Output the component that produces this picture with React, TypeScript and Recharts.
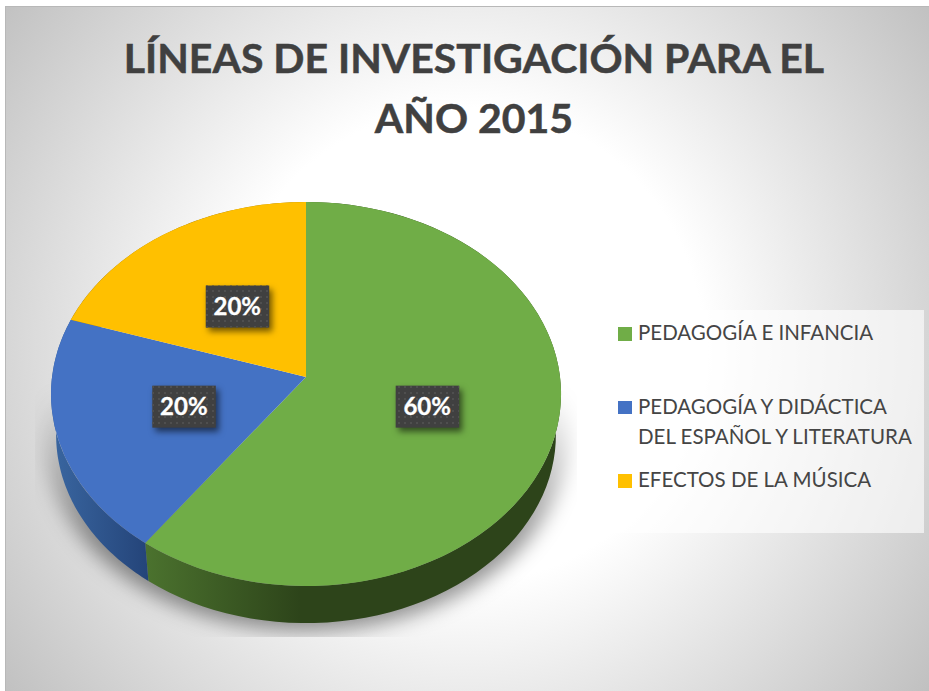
import { Legend, Pie, PieChart } from "recharts";

const categories = [
  "PEDAGOGÍA E INFANCIA",
  "PEDAGOGÍA Y DIDÁCTICA DEL ESPAÑOL Y LITERATURA",
  "EFECTOS DE LA MÚSICA",
];
const shares = [60, 20, 20];
const faceColors = ["#70AD47", "#4472C4", "#FFC000"];
const wallColors = ["url(#wallGreen)", "url(#wallBlue)", "#a67c00"];
const titleLines = ["LÍNEAS DE INVESTIGACIÓN PARA EL", "AÑO 2015"];

const faceRows = categories.map((name, i) => ({ name, value: shares[i], fill: faceColors[i] }));
const wallRows = categories.map((name, i) => ({ name, value: shares[i], fill: wallColors[i] }));

const FONT = "Lato, 'Open Sans', sans-serif";
const DEPTH_Y = 41;
const WALL_SCALE = 0.98;

// the disc is seen in perspective: the apex sits above the middle of the ellipse
function project(cx: number, cy: number, r: number, deg: number) {
  const rad = (deg * Math.PI) / 180;
  const u = Math.cos(rad);
  const v = -Math.sin(rad);
  const w = 1 - 0.0885 * v;
  return {
    x: cx + (u * r * 0.996) / w,
    y: cy - r * 0.0667 + (v * r * 0.747) / w,
  };
}

function FaceSector(props: any) {
  const { cx, cy, outerRadius: r, startAngle, endAngle, fill } = props;
  const a = project(cx, cy, r, startAngle);
  const b = project(cx, cy, r, endAngle);
  const apexY = cy - r * 0.0667;
  const large = Math.abs(endAngle - startAngle) > 180 ? 1 : 0;
  const d = `M${cx},${apexY}L${a.x},${a.y}A${r},${r * 0.753} 0 ${large} 1 ${b.x},${b.y}Z`;
  return <path d={d} fill={fill} stroke="none" />;
}

function WallSector(props: any) {
  const { cx, cy, outerRadius: r, startAngle, endAngle, fill } = props;
  const top: string[] = [];
  const bottom: string[] = [];
  for (let i = 0; i <= 80; i++) {
    const p = project(cx, cy, r, startAngle + ((endAngle - startAngle) * i) / 80);
    top.push(`${p.x},${p.y}`);
    bottom.unshift(`${cx + (p.x - cx) * WALL_SCALE},${cy + DEPTH_Y + (p.y - cy) * WALL_SCALE}`);
  }
  return <polygon points={[...top, ...bottom].join(" ")} fill={fill} stroke="none" />;
}

function renderLabel(props: any) {
  const { cx, cy, outerRadius, midAngle, percent } = props;
  const p = project(cx, cy, outerRadius, midAngle);
  const apexY = cy - outerRadius * 0.0667;
  const x = cx + (p.x - cx) * 0.49;
  const y = apexY + (p.y - apexY) * 0.49;
  return (
    <g>
      <rect
        x={x - 32}
        y={y - 21}
        width={63.5}
        height={42}
        fill="#404040"
        style={{ filter: "drop-shadow(3px 4px 3px rgba(0,0,0,0.55))" }}
      />
      <rect x={x - 32} y={y - 21} width={63.5} height={42} fill="url(#labelDots)" />
      <text
        x={x - 0.5}
        y={y + 8.5}
        textAnchor="middle"
        fill="#ffffff"
        stroke="#ffffff"
        strokeWidth={0.3}
        fontFamily={FONT}
        fontWeight={700}
        fontSize={24}
      >
        {`${Math.round(percent * 100)}%`}
      </text>
    </g>
  );
}

function LegendPanel({ payload }: any) {
  const items = (payload || []).filter((item: any) => item.type !== "none");
  return (
    <div style={{ width: 318, height: 223, background: "rgba(255,255,255,0.62)", position: "relative" }}>
      {items.map((item: any, i: number) => (
        <div key={item.value} style={{ position: "absolute", left: 12, top: 17 + i * 73.5 }}>
          <div style={{ position: "absolute", left: 0, top: 0, width: 14, height: 13.5, background: item.color }} />
          <div
            style={{
              position: "absolute",
              left: 20,
              top: -10,
              width: 285,
              fontFamily: FONT,
              fontSize: 20.5,
              lineHeight: "30px",
              color: "#454545",
            }}
          >
            {item.value}
          </div>
        </div>
      ))}
    </div>
  );
}

export default function App() {
  return (
    <div style={{ position: "absolute", left: 0, top: 0, width: 929, height: 691, overflow: "hidden", background: "#fff" }}>
      <svg width={929} height={691} style={{ position: "absolute", left: 0, top: 0 }}>
        <defs>
          <radialGradient id="pageGlow" gradientUnits="userSpaceOnUse" cx={465} cy={345} r={580}>
            <stop offset="0.41" stopColor="#ffffff" />
            <stop offset="1" stopColor="#c0c0c0" />
          </radialGradient>
          <linearGradient id="shadowFade" gradientUnits="userSpaceOnUse" x1={0} y1={390} x2={0} y2={540}>
            <stop offset="0" stopColor="#000" stopOpacity={0} />
            <stop offset="1" stopColor="#000" stopOpacity={0.42} />
          </linearGradient>
          <filter id="shadowBlur" x="-10%" y="-10%" width="120%" height="120%">
            <feGaussianBlur stdDeviation={10} />
          </filter>
          <clipPath id="shadowClip">
            <rect x={35} y={380} width={542} height={257} />
          </clipPath>
        </defs>
        <rect x={5.5} y={6.5} width={930} height={690} fill="url(#pageGlow)" stroke="#b8b8b8" />
        <g clipPath="url(#shadowClip)">
          <ellipse cx={306} cy={436} rx={262} ry={195} fill="url(#shadowFade)" filter="url(#shadowBlur)" />
        </g>
      </svg>
      <div style={{ position: "absolute", left: 0, top: 0 }}>
        <PieChart width={929} height={691} margin={{ top: 0, right: 0, bottom: 0, left: 0 }}>
          <defs>
            <linearGradient id="wallGreen" gradientUnits="userSpaceOnUse" x1={146} y1={0} x2={300} y2={0}>
              <stop offset="0" stopColor="#4b722e" />
              <stop offset="1" stopColor="#2d441a" />
            </linearGradient>
            <linearGradient id="wallBlue" gradientUnits="userSpaceOnUse" x1={55} y1={0} x2={148} y2={0}>
              <stop offset="0" stopColor="#39659f" />
              <stop offset="1" stopColor="#244479" />
            </linearGradient>
            <pattern id="labelDots" width={6} height={6} patternUnits="userSpaceOnUse">
              <rect x={2} y={2} width={2} height={2} fill="#4f4f4f" />
            </pattern>
          </defs>
          {titleLines.map((line, i) => (
            <text
              key={line}
              x={474}
              y={73 + i * 60}
              textAnchor="middle"
              fill="#404040"
              stroke="#404040"
              strokeWidth={0.5}
              fontFamily={FONT}
              fontWeight={700}
              fontSize={41}
            >
              {line}
            </text>
          ))}
          <Pie
            data={wallRows}
            dataKey="value"
            nameKey="name"
            cx={306}
            cy={394}
            outerRadius={255}
            startAngle={90}
            endAngle={-270}
            legendType="none"
            shape={WallSector}
            inactiveShape={WallSector}
            isAnimationActive={false}
          />
          <Pie
            data={faceRows}
            dataKey="value"
            nameKey="name"
            cx={306}
            cy={394}
            outerRadius={255}
            startAngle={90}
            endAngle={-270}
            shape={FaceSector}
            inactiveShape={FaceSector}
            label={renderLabel}
            labelLine={false}
            isAnimationActive={false}
          />
          <Legend
            content={<LegendPanel />}
            itemSorter={null}
            wrapperStyle={{ position: "absolute", left: 606, top: 310, width: 318, height: 223, bottom: "auto" }}
          />
        </PieChart>
      </div>
    </div>
  );
}
